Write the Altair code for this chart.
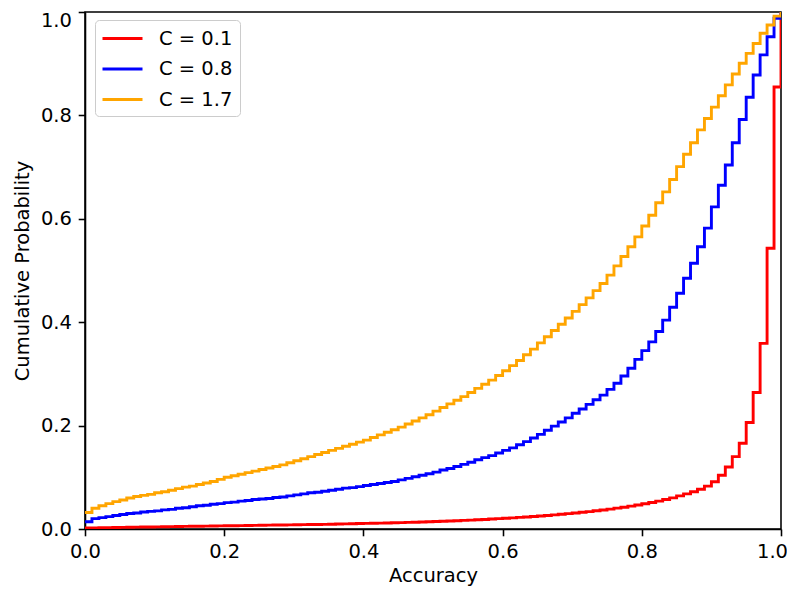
import altair as alt
import pandas as pd

# bin edges of the cumulative histogram (100 bins on [0, 1]) plus closing edge
edges = [round(i * 0.01, 2) for i in range(101)]

series_names = ["C = 0.1", "C = 0.8", "C = 1.7"]
series_colors = ["#ff0000", "#0000ff", "#ffa500"]

red = [0.002, 0.0022, 0.0025, 0.0027, 0.003, 0.0032, 0.0034, 0.0036, 0.0038, 0.004,
       0.0042, 0.0044, 0.0046, 0.0048, 0.005, 0.0052, 0.0054, 0.0056, 0.0058, 0.006,
       0.0062, 0.0064, 0.0066, 0.0068, 0.007, 0.0072, 0.0074, 0.0076, 0.0078, 0.008,
       0.0082, 0.0084, 0.0086, 0.0088, 0.009, 0.0093, 0.0096, 0.0099, 0.0102, 0.0105,
       0.0108, 0.0111, 0.0114, 0.0117, 0.012, 0.0124, 0.0128, 0.0132, 0.0136, 0.014,
       0.0145, 0.015, 0.0155, 0.016, 0.0166, 0.0172, 0.0178, 0.0185, 0.0192, 0.02,
       0.0208, 0.0216, 0.0224, 0.0233, 0.0242, 0.0252, 0.0262, 0.0273, 0.0285, 0.0297,
       0.031, 0.0323, 0.0337, 0.0352, 0.0368, 0.0385, 0.0403, 0.0422, 0.0442, 0.0464,
       0.0487, 0.0512, 0.054, 0.057, 0.0603, 0.064, 0.068, 0.072, 0.077, 0.083,
       0.0915, 0.104, 0.12, 0.14, 0.166, 0.206, 0.264, 0.359, 0.543, 0.855, 1.0]

blue = [0.014, 0.020, 0.022, 0.024, 0.026, 0.028, 0.030, 0.031, 0.033, 0.034,
        0.035, 0.037, 0.038, 0.040, 0.041, 0.043, 0.045, 0.046, 0.048, 0.049,
        0.051, 0.052, 0.054, 0.055, 0.057, 0.058, 0.059, 0.061, 0.062, 0.064,
        0.066, 0.068, 0.070, 0.071, 0.073, 0.075, 0.077, 0.079, 0.080, 0.082,
        0.084, 0.086, 0.088, 0.090, 0.092, 0.095, 0.098, 0.101, 0.104, 0.107,
        0.110, 0.114, 0.117, 0.121, 0.125, 0.129, 0.134, 0.138, 0.142, 0.147,
        0.152, 0.157, 0.163, 0.169, 0.176, 0.183, 0.191, 0.199, 0.207, 0.215,
        0.224, 0.232, 0.241, 0.250, 0.259, 0.270, 0.282, 0.296, 0.311, 0.328,
        0.345, 0.362, 0.382, 0.404, 0.429, 0.456, 0.485, 0.514, 0.546, 0.582,
        0.623, 0.665, 0.704, 0.747, 0.792, 0.835, 0.878, 0.917, 0.952, 0.988, 1.0]

orange = [0.032, 0.040, 0.045, 0.049, 0.053, 0.056, 0.060, 0.063, 0.065, 0.067,
          0.070, 0.072, 0.075, 0.078, 0.081, 0.083, 0.086, 0.089, 0.092, 0.096,
          0.100, 0.103, 0.106, 0.109, 0.112, 0.115, 0.118, 0.121, 0.124, 0.128,
          0.132, 0.136, 0.140, 0.144, 0.148, 0.152, 0.156, 0.160, 0.164, 0.168,
          0.172, 0.177, 0.182, 0.187, 0.192, 0.197, 0.203, 0.209, 0.215, 0.221,
          0.228, 0.235, 0.242, 0.249, 0.256, 0.264, 0.272, 0.280, 0.288, 0.297,
          0.306, 0.316, 0.326, 0.337, 0.348, 0.360, 0.372, 0.384, 0.396, 0.408,
          0.421, 0.434, 0.447, 0.461, 0.475, 0.491, 0.509, 0.527, 0.546, 0.565,
          0.586, 0.607, 0.631, 0.652, 0.676, 0.701, 0.725, 0.747, 0.772, 0.794,
          0.816, 0.838, 0.859, 0.880, 0.901, 0.920, 0.939, 0.959, 0.975, 0.992, 1.0]

x_ticks = [0.0, 0.2, 0.4, 0.6, 0.8, 1.0]
y_ticks = [0.0, 0.2, 0.4, 0.6, 0.8, 1.0]

rows = []
for name, vals in zip(series_names, [red, blue, orange]):
    for x, v in zip(edges, vals):
        rows.append({"acc": x, "cp": v, "series": name})
df = pd.DataFrame(rows)

FONT = "DejaVu Sans"
FS = 19.5

color_scale = alt.Scale(domain=series_names, range=series_colors)

base = alt.Chart(df).mark_line(
    interpolate="step-after", strokeWidth=2.9, clip=True
).encode(
    x=alt.X("acc:Q", scale=alt.Scale(domain=[0, 1], nice=False, zero=False),
            axis=alt.Axis(values=x_ticks, format=".1f", title="Accuracy",
                          labelFlush=False, titlePadding=5,
                          labelOffset={"condition": {"test": "datum.value >= 0.99", "value": -9},
                                       "value": 0})),
    y=alt.Y("cp:Q", scale=alt.Scale(domain=[0, 1], nice=False, zero=False),
            axis=alt.Axis(values=y_ticks, format=".1f", title="Cumulative Probability",
                          labelFlush=False, titlePadding=8,
                          labelOffset={"condition": {"test": "datum.value >= 0.99", "value": 8},
                                       "value": 0})),
    color=alt.Color("series:N", scale=color_scale, legend=alt.Legend(
        title=None, orient="none", legendX=10, legendY=8,
        symbolType="M-2,0L2,0", symbolSize=400, symbolStrokeWidth=2.9,
        symbolOffset=9, labelOffset=25, labelFont=FONT, labelFontSize=FS,
        labelColor="black", padding=7, rowPadding=9.5,
        fillColor="white", strokeColor="#cccccc", cornerRadius=4,
    )),
)

layers = [base.transform_filter(alt.datum.series == s) for s in series_names]

chart = alt.layer(*layers).properties(
    width=696, height=517,
    padding={"left": 77, "top": 4, "right": 6, "bottom": 58},
    autosize=alt.AutoSizeParams(type="none"),
).configure_view(
    stroke="black", strokeWidth=1.56
).configure_axis(
    grid=False, domainColor="black", domainWidth=1.56,
    tickColor="black", tickWidth=1.56, tickSize=6.8, labelPadding=6.8,
    labelFont=FONT, labelFontSize=FS, labelColor="black",
    titleFont=FONT, titleFontSize=FS, titleFontWeight="normal", titleColor="black",
)

chart.save("out.html", embed_options={"renderer": "svg", "actions": False})
